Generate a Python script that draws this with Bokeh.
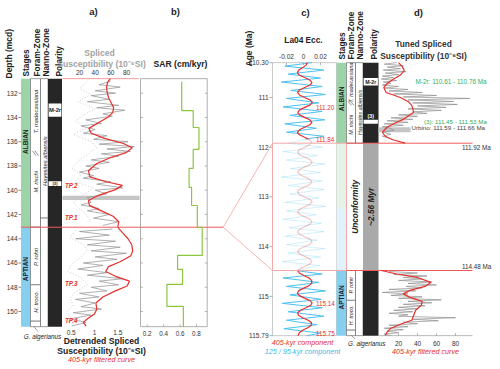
import math
from bokeh.plotting import figure
from bokeh.models import Range1d
from bokeh.core.properties import value
from bokeh.embed import file_html
from bokeh.resources import INLINE

# ------------------------------------------------------------------ data
depth_ticks = [132, 134, 136, 138, 140, 142, 144, 146, 148, 150]
susA_ticks = [20, 40, 60, 80]
detA_ticks = [0.5, 1.0, 1.5]
detA_labels = ["0.5", "1", "1.5"]
sar_ticks = [0.2, 0.4, 0.6, 0.8]
sar_labels = ["0.2", "0.4", "0.6", "0.8"]
ecc_ticks = [-0.02, 0.0, 0.02]
ecc_labels = ["-0.02", "0", "0.02"]
age_ticks = [110.30, 111, 112, 113, 114, 115, 115.79]
age_labels = ["110.30", "111", "112", "113", "114", "115", "115.79"]
susD_ticks = [20, 40, 60, 80]

depth_top, depth_bot = 130.8, 151.25
age_top, age_bot = 110.30, 115.79
unconf_depth = 143.05
unconf_age_top, unconf_age_bot = 111.92, 114.48

stage_names = ["ALBIAN", "APTIAN"]
stage_a_top = [130.8, 143.05]
stage_a_bot = [143.05, 151.25]
stage_a_label_depth = [136.0, 146.5]
stage_c_top = [110.30, 111.92, 113.24, 114.48]
stage_c_bot = [111.92, 113.24, 114.48, 115.79]
stage_c_label_age = [111.03, 115.02]

foram_names = ["T. madecassiana", "M. rischi", "P. rohri", "H. troco."]
foram_a_box_top = [130.8, 143.05, 147.8, 150.8]
foram_a_box_bot = [143.05, 147.8, 150.8, 151.25]
foram_a_label_depth = [133.5, 139.3, 145.5, 149.2]
foram_a_uncertain = 136.95
foram_c_box_top = [110.30, 114.48, 115.08, 115.68]
foram_c_box_bot = [111.92, 115.08, 115.68, 115.79]
foram_c_label_age = [110.70, 111.55, 114.78, 115.38]
foram_c_uncertain = 111.12

nanno_name = "Hayesites albiensis"
nanno_a_top = [130.8, 142.3]
nanno_a_bot = [142.3, 151.25]
nanno_a_label_depth = 137.6
nanno_c_top = [110.30, 114.48]
nanno_c_bot = [111.92, 115.79]
nanno_c_label_age = 111.30

pol_band_names = ["M-2r", "(3)"]
pol_a_band_top = [132.85, 139.25]
pol_a_band_bot = [133.95, 139.65]
pol_c_band_top = [110.61, 111.45]
pol_c_band_bot = [110.76, 111.53]
pol_c_label_age = [110.685, 111.38]

urbino_depth = [140.45, 140.80]
urbino_age = [111.60, 111.70]

tp_names = ["TP.1", "TP.2", "TP.3", "TP.4"]
tp_depth = [142.25, 139.6, 147.7, 150.75]

# spliced susceptibility (panel a, 10^-6 SI)
gray_a_top_depth = [131.0, 131.3, 131.5, 131.8, 132.0, 132.2, 132.5, 132.7, 133.0, 133.2,
                    133.4, 133.7, 133.9, 134.2, 134.5, 134.7, 135.0, 135.3, 135.5, 135.8,
                    136.0, 136.2, 136.4, 136.6, 136.8, 137.0, 137.2, 137.5, 137.7, 138.0,
                    138.2, 138.5, 138.8, 139.0, 139.3, 139.5, 139.8, 140.0, 140.3, 140.6,
                    141.0, 141.2, 141.5, 141.7, 142.0, 142.3, 142.6, 142.9]
gray_a_top_val = [60, 45, 72, 40, 66, 35, 58, 30, 70, 42,
                  78, 50, 62, 28, 48, 22, 40, 25, 55, 38,
                  82, 45, 90, 55, 85, 48, 70, 35, 58, 28,
                  45, 20, 38, 25, 60, 42, 75, 40, 55, 30,
                  35, 22, 45, 30, 58, 38, 70, 50]
gray_a_bot_depth = [143.2, 143.4, 143.7, 144.0, 144.2, 144.5, 144.7, 145.0, 145.2, 145.5,
                    145.7, 146.0, 146.2, 146.5, 146.8, 147.0, 147.3, 147.5, 147.8, 148.0,
                    148.3, 148.5, 148.8, 149.0, 149.3, 149.6, 149.8, 150.1, 150.3, 150.6,
                    150.9, 151.2]
gray_a_bot_val = [62, 20, 58, 15, 66, 30, 72, 35, 80, 40,
                  68, 25, 50, 18, 55, 30, 75, 45, 70, 35,
                  55, 20, 45, 15, 40, 22, 48, 12, 35, 8,
                  28, 10]
dot_a_top_depth = [131.0, 131.6, 132.1, 132.7, 133.3, 133.8, 134.3, 134.9, 135.4, 136.0, 136.5,
                   137.1, 137.6, 138.2, 138.7, 139.3, 139.8, 140.4, 141.0, 141.5, 142.1, 142.7]
dot_a_top_val = [30, 20, 35, 18, 40, 25, 15, 28, 12, 35, 42, 30, 18, 10, 22, 15, 38, 25, 12, 20, 30, 35]
dot_a_bot_depth = [143.3, 143.9, 144.5, 145.0, 145.6, 146.1, 146.7, 147.2, 147.8, 148.4,
                   148.9, 149.5, 150.0, 150.6, 151.1]
dot_a_bot_val = [15, 8, 25, 30, 20, 10, 5, 22, 30, 15, 8, 12, 4, 10, 3]

# 405-kyr filtered detrended susceptibility (panel a)
red_a_top_depth = [130.8, 131.1, 131.5, 131.9, 132.35, 132.8, 133.2, 133.6, 134.0, 134.4,
                   134.9, 135.3, 135.7, 136.15, 136.5, 136.9, 137.3, 137.8, 138.4, 138.9,
                   139.3, 139.6, 139.95, 140.4, 140.85, 141.25, 141.7, 142.15, 142.6, 143.05]
red_a_top_val = [1.34, 1.28, 1.26, 1.27, 1.30, 1.36, 1.41, 1.39, 1.28, 1.10,
                 0.88, 0.93, 1.20, 1.62, 1.81, 1.68, 1.35, 1.05, 0.87, 0.90,
                 1.25, 1.60, 1.45, 1.10, 0.87, 0.89, 1.15, 1.40, 1.52, 1.50]
red_a_bot_depth = [143.07, 143.5, 144.0, 144.5, 145.0, 145.4, 145.9, 146.3, 146.7, 147.1,
                   147.5, 147.9, 148.3, 148.8, 149.3, 149.8, 150.2, 150.6, 150.9, 151.2]
red_a_bot_val = [1.50, 1.60, 1.72, 1.80, 1.82, 1.78, 1.55, 1.30, 1.24, 1.45,
                 1.75, 1.70, 1.45, 1.18, 1.03, 1.05, 1.00, 0.85, 0.76, 0.82]

# SAR (panel b)
sar_bounds = [131.05, 133.43, 134.83, 136.64, 138.20, 139.77, 141.26, 143.07, 145.38,
              146.53, 147.77, 149.58, 151.25]
sar_vals = [0.62, 0.76, 0.83, 0.76, 0.71, 0.74, 0.81, 0.87, 0.57, 0.63, 0.44, 0.64]

# La04 eccentricity components (panel c)
ecc_top_age = [110.30, 110.37, 110.45, 110.53, 110.61, 110.69, 110.78, 110.86, 110.94, 111.02,
               111.11, 111.19, 111.28, 111.36, 111.45, 111.53, 111.62, 111.70, 111.78, 111.84]
ecc_top_val = [0.010, -0.022, 0.024, -0.018, 0.020, -0.026, 0.022, -0.015, 0.026, -0.020,
               0.018, -0.024, 0.022, -0.016, 0.025, -0.022, 0.015, -0.020, 0.024, 0.002]
ecc_mid_age = [111.84, 111.92, 112.00, 112.09, 112.17, 112.26, 112.34, 112.43, 112.51, 112.60,
               112.68, 112.77, 112.85, 112.94, 113.02, 113.11, 113.19, 113.28, 113.36, 113.45,
               113.53, 113.62, 113.70, 113.79, 113.87, 113.96, 114.04, 114.13, 114.21, 114.30,
               114.38, 114.48]
ecc_mid_val = [0.002, -0.018, 0.022, -0.024, 0.016, -0.020, 0.025, -0.015, 0.020, -0.026,
               0.022, -0.018, 0.024, -0.016, 0.018, -0.022, 0.026, -0.020, 0.015, -0.024,
               0.021, -0.017, 0.024, -0.022, 0.016, -0.020, 0.025, -0.018, 0.020, -0.025,
               0.019, -0.010]
ecc_bot_age = [114.48, 114.55, 114.63, 114.72, 114.80, 114.89, 114.97, 115.06, 115.14, 115.23,
               115.31, 115.40, 115.48, 115.57, 115.65, 115.74, 115.79]
ecc_bot_val = [-0.010, 0.022, -0.024, 0.018, -0.020, 0.026, -0.016, 0.021, -0.025, 0.022,
               -0.018, 0.024, -0.020, 0.016, -0.023, 0.020, 0.004]

red_c_top_age = [110.30, 110.35, 110.40, 110.45, 110.50, 110.55, 110.60, 110.65, 110.70, 110.75,
                 110.80, 110.85, 110.90, 110.95, 111.00, 111.05, 111.10, 111.15, 111.20, 111.25,
                 111.30, 111.35, 111.40, 111.45, 111.50, 111.55, 111.60, 111.65, 111.70, 111.75,
                 111.80, 111.84]
red_c_top_val = [0.0045, 0.0030, -0.0010, -0.0055, -0.0072, -0.0050, 0.0012, 0.0075, 0.0100, 0.0076,
                 0.0014, -0.0046, -0.0070, -0.0047, 0.0013, 0.0078, 0.0104, 0.0080, 0.0016, -0.0044,
                 -0.0068, -0.0046, 0.0012, 0.0074, 0.0098, 0.0074, 0.0014, -0.0048, -0.0072, -0.0048,
                 0.0012, 0.0060]
red_c_mid_age = [111.84, 111.90, 111.95, 112.00, 112.05, 112.10, 112.15, 112.20, 112.25, 112.30,
                 112.35, 112.40, 112.45, 112.50, 112.55, 112.60, 112.65, 112.70, 112.75, 112.80,
                 112.85, 112.90, 112.95, 113.00, 113.05, 113.10, 113.15, 113.20, 113.25, 113.30,
                 113.35, 113.40, 113.45, 113.50, 113.55, 113.60, 113.65, 113.70, 113.75, 113.80,
                 113.85, 113.90, 113.95, 114.00, 114.05, 114.10, 114.15, 114.20, 114.25, 114.30,
                 114.35, 114.40, 114.45, 114.48]
red_c_mid_val = [0.0060, 0.0098, 0.0074, 0.0012, -0.0047, -0.0071, -0.0047, 0.0013, 0.0077, 0.0101,
                 0.0077, 0.0014, -0.0045, -0.0069, -0.0045, 0.0015, 0.0075, 0.0099, 0.0075, 0.0013,
                 -0.0048, -0.0072, -0.0048, 0.0012, 0.0078, 0.0102, 0.0078, 0.0014, -0.0046, -0.0070,
                 -0.0046, 0.0014, 0.0076, 0.0100, 0.0076, 0.0013, -0.0047, -0.0071, -0.0047, 0.0013,
                 0.0077, 0.0101, 0.0077, 0.0014, -0.0045, -0.0069, -0.0045, 0.0015, 0.0075, 0.0099,
                 0.0075, 0.0013, -0.0048, -0.0068]
red_c_bot_age = [114.48, 114.53, 114.58, 114.63, 114.68, 114.73, 114.78, 114.83, 114.88, 114.93,
                 114.98, 115.03, 115.08, 115.13, 115.18, 115.23, 115.28, 115.33, 115.38, 115.43,
                 115.48, 115.53, 115.58, 115.63, 115.68, 115.73, 115.79]
red_c_bot_val = [-0.0068, -0.0050, 0.0005, 0.0065, 0.0095, 0.0098, 0.0070, 0.0010, -0.0050, -0.0072,
                 -0.0052, 0.0005, 0.0072, 0.0102, 0.0085, 0.0030, -0.0035, -0.0068, -0.0060, -0.0010,
                 0.0055, 0.0095, 0.0090, 0.0050, -0.0010, -0.0050, -0.0065]
red_c_tag_age = [111.20, 111.84, 115.14, 115.75]
red_c_tag_text = ["111.20", "111.84", "115.14", "115.75"]

# tuned spliced susceptibility (panel d)
gray_d_top_age = [110.30, 110.33, 110.36, 110.39, 110.42, 110.45, 110.48, 110.51, 110.54, 110.57,
                  110.60, 110.63, 110.66, 110.69, 110.72, 110.75, 110.78, 110.81, 110.84, 110.87,
                  110.90, 110.93, 110.96, 110.99, 111.02, 111.05, 111.08, 111.11, 111.14, 111.17,
                  111.20, 111.23, 111.26, 111.29, 111.32, 111.35, 111.38, 111.41, 111.44, 111.47,
                  111.50, 111.53, 111.56, 111.59, 111.62, 111.66, 111.70, 111.74, 111.78, 111.82]
gray_d_top_val = [18, 5, 25, 8, 22, 4, 28, 6, 20, 3,
                  15, 2, 18, 4, 12, 3, 20, 5, 30, 10,
                  45, 15, 60, 25, 95, 30, 78, 35, 82, 40,
                  70, 30, 65, 35, 50, 20, 40, 12, 35, 8,
                  30, 5, 25, 3, 12, 15, 4, 12, 3, 10]
gray_d_bot_age = [114.50, 114.53, 114.56, 114.59, 114.62, 114.65, 114.68, 114.71, 114.74, 114.77,
                  114.80, 114.83, 114.86, 114.89, 114.92, 114.95, 114.98, 115.01, 115.04, 115.07,
                  115.10, 115.13, 115.16, 115.19, 115.22, 115.25, 115.28, 115.31, 115.34, 115.37,
                  115.40, 115.43, 115.46, 115.49, 115.52, 115.55, 115.58, 115.61, 115.64, 115.67,
                  115.70, 115.73, 115.76, 115.79]
gray_d_bot_val = [10, 40, 15, 50, 25, 45, 20, 55, 30, 60,
                  28, 45, 10, 38, 3, 30, 12, 45, 20, 65,
                  30, 55, 25, 48, 20, 40, 15, 35, 10, 30,
                  20, 80, 35, 62, 25, 40, 10, 30, 5, 25,
                  8, 20, 5, 12]
red_d_top_age = [110.30, 110.38, 110.46, 110.55, 110.63, 110.72, 110.80, 110.90, 111.00, 111.08,
                 111.16, 111.30, 111.43, 111.52, 111.60, 111.70, 111.78, 111.85, 111.92]
red_d_top_val = [20, 24, 26, 22, 15, 8, 4.5, 7, 22, 30, 34, 36, 26, 16, 8, 3, 6, 14, 27]
red_d_bot_age = [114.48, 114.55, 114.62, 114.72, 114.80, 114.88, 114.95, 115.02, 115.10, 115.18,
                 115.28, 115.38, 115.48, 115.56, 115.64, 115.72, 115.79]
red_d_bot_val = [2, 18, 40, 54, 48, 32, 25, 32, 45, 44, 38, 36, 34, 22, 12, 8, 6]

# ------------------------------------------------------------------ layout
# Bokeh's page template has no body margin, so the figure covers the window.
W, H, M = 500, 369, 0
DEPTH_PX = (132, 92.7, 150, 311.0)
AGE_PX = (111.92, 142.7, 114.48, 270.0)
SUSA_PX = (20, 79.0, 80, 126.0)
DETA_PX = (0.5, 70.7, 1.5, 117.3)
SAR_PX = (0.2, 146.7, 0.8, 196.0)
ECC_PX = (-0.02, 286.0, 0.02, 320.0)
SUSD_PX = (20, 398.0, 80, 455.0)

A_STAGE = (20.5, 30.0); A_FORAM = (30.0, 40.0); A_NANNO = (40.0, 47.5); A_POL = (47.5, 61.5)
C_STAGE = (336.0, 346.0); C_FORAM = (346.0, 355.0); C_NANNO = (355.0, 362.5); C_POL = (362.5, 378.0)
A_PLOT = (62.0, 139.0)
B_BOX = (140.0, 206.7)
C_BOX = (272.0, 336.0)
D_PLOT = (378.0, 472.0)


def to_px(a, v):
    v1, p1, v2, p2 = a
    return p1 + (v - v1) * (p2 - p1) / (v2 - v1)


def from_px(a, px):
    v1, p1, v2, p2 = a
    return v1 + (px - p1) * (v2 - v1) / (p2 - p1)


def xr(a):
    return Range1d(start=from_px(a, M), end=from_px(a, M + W))


def yr(a):
    return Range1d(start=from_px(a, M + H), end=from_px(a, M))


p = figure(width=W, height=H, x_range=Range1d(M, M + W), y_range=Range1d(M + H, M),
           output_backend="svg", toolbar_location=None, min_border=0,
           x_axis_location=None, y_axis_location=None)
p.grid.visible = False
p.outline_line_color = None
p.background_fill_color = "white"
p.border_fill_color = "white"
p.extra_x_ranges = {"susA": xr(SUSA_PX), "detA": xr(DETA_PX), "sar": xr(SAR_PX),
                    "ecc": xr(ECC_PX), "susD": xr(SUSD_PX)}
p.extra_y_ranges = {"depth": yr(DEPTH_PX), "age": yr(AGE_PX)}

FONT = value("Liberation Sans")
UP = math.pi / 2
RED = "#E5302C"
BLUE = "#4EC2F0"
GREEN_ST = "#9CD3A8"
BLUE_ST = "#86CFEF"
POLC = "#262626"


def label(xs, ys, texts, size, color="#222222", style="normal", align="center",
          baseline="middle", angle=0.0, alpha=1.0, xname="default", yname="default"):
    p.text(x=list(xs), y=list(ys), text=list(texts), text_font=FONT,
           text_font_size=f"{size}px", text_color=color, text_font_style=style,
           text_align=align, text_baseline=baseline, angle=angle, text_alpha=alpha,
           x_range_name=xname, y_range_name=yname)


# ------------------------------------------------------------------ panel a columns
p.quad(left=A_STAGE[0], right=A_STAGE[1], top=stage_a_top, bottom=stage_a_bot,
       fill_color=[GREEN_ST, BLUE_ST], line_color=None, y_range_name="depth")
label([sum(A_STAGE) / 2] * 2, stage_a_label_depth, stage_names, 6.5, style="bold",
      angle=UP, yname="depth")
p.quad(left=A_FORAM[0], right=A_FORAM[1], top=foram_a_box_top, bottom=foram_a_box_bot,
       fill_color="white", line_color="#555555", line_width=0.6, y_range_name="depth")
p.quad(left=A_NANNO[0], right=A_NANNO[1], top=nanno_a_top, bottom=nanno_a_bot,
       fill_color="white", line_color="#555555", line_width=0.6, y_range_name="depth")
p.segment(x0=[32.0, 34.5], x1=[35.5, 38.0], y0=[foram_a_uncertain - 0.2] * 2,
          y1=[foram_a_uncertain + 0.2] * 2, line_color="#444444", line_width=0.6,
          y_range_name="depth")
label([35.2] * 4, foram_a_label_depth, foram_names, 5.8, style="italic", angle=UP,
      yname="depth")
label([44.0], [nanno_a_label_depth], [nanno_name], 5.8, style="italic", angle=UP,
      yname="depth")
p.quad(left=A_POL[0], right=A_POL[1], top=[depth_top], bottom=[depth_bot],
       fill_color=POLC, line_color=None, y_range_name="depth")
p.quad(left=A_POL[0] + 0.6, right=A_POL[1] - 0.6, top=pol_a_band_top, bottom=pol_a_band_bot,
       fill_color="white", line_color=None, y_range_name="depth")
label([sum(A_POL) / 2], [(pol_a_band_top[0] + pol_a_band_bot[0]) / 2], [pol_band_names[0]],
      5.8, style="bold", yname="depth")
label([sum(A_POL) / 2], [(pol_a_band_top[1] + pol_a_band_bot[1]) / 2], [pol_band_names[1]],
      4.2, style="bold", yname="depth")

# depth axis
p.segment(x0=18.0, x1=A_STAGE[0], y0=depth_ticks, y1=depth_ticks, line_color="#555555",
          line_width=0.7, y_range_name="depth")
label([17.0] * len(depth_ticks), depth_ticks, [str(d) for d in depth_ticks], 6.5,
      color="#333333", align="right", yname="depth")

# headers panel a
label([8.8], [78], ["Depth (mcd)"], 8.5, style="bold", align="left", angle=UP)
label([25.3, 36.0, 45.3, 58.3], [76, 76, 76, 76],
      ["Stages", "Foram-Zone", "Nanno-Zone", "Polarity"], 8.3, style="bold",
      align="left", angle=UP)
label([99, 101], [52, 63.5], ["Spliced", "Susceptibility (10\u207b\u2076SI)"], 8.6,
      color="#A3A3A3", style="bold")

# ------------------------------------------------------------------ panel a plot
p.quad(left=A_PLOT[0], right=A_PLOT[1], top=[urbino_depth[0]], bottom=[urbino_depth[1]],
       fill_color="#C4C4C4", line_color=None, y_range_name="depth")
p.line(x=dot_a_top_val, y=dot_a_top_depth, x_range_name="susA", y_range_name="depth",
       line_color="#BDBDBD", line_width=0.8, line_dash="1 2")
p.line(x=dot_a_bot_val, y=dot_a_bot_depth, x_range_name="susA", y_range_name="depth",
       line_color="#BDBDBD", line_width=0.8, line_dash="1 2")
p.line(x=gray_a_top_val, y=gray_a_top_depth, x_range_name="susA", y_range_name="depth",
       line_color="#8E8E8E", line_width=0.7)
p.line(x=gray_a_bot_val, y=gray_a_bot_depth, x_range_name="susA", y_range_name="depth",
       line_color="#8E8E8E", line_width=0.7)
p.line(x=red_a_top_val, y=red_a_top_depth, x_range_name="detA", y_range_name="depth",
       line_color=RED, line_width=1.2)
p.line(x=red_a_bot_val, y=red_a_bot_depth, x_range_name="detA", y_range_name="depth",
       line_color=RED, line_width=1.2)
p.line(x=[A_PLOT[0], 138.0], y=[depth_top, depth_top], y_range_name="depth",
       line_color="#F08080", line_width=0.8)
label(susA_ticks, [72] * 4, [str(t) for t in susA_ticks], 6.5, color="#333333",
      xname="susA")
label(detA_ticks, [332] * 3, detA_labels, 6.5, color="#333333", xname="detA")
label([64.5] * 4, tp_depth, tp_names, 6.3, color=RED, style="bold italic", align="left",
      yname="depth")
label([101, 101], [340.5, 350], ["Detrended Spliced", "Susceptibility (10\u207b\u2076SI)"], 8.6,
      style="bold")
label([101], [358.5], ["405-kyr filtered curve"], 7.2, color=RED, style="italic")
p.line(x=[33.5, 37.5], y=[to_px(DEPTH_PX, depth_bot), 331.0], line_color="#555555",
       line_width=0.6)
label([42], [335.5], ["G. algerianus"], 6.3, style="italic")

# unconformity in depth domain
p.line(x=[A_STAGE[0], 222.7], y=[unconf_depth, unconf_depth], y_range_name="depth",
       line_color="#F05A5A", line_width=1.0)

# ------------------------------------------------------------------ panel b
p.quad(left=B_BOX[0], right=B_BOX[1], top=[depth_top], bottom=[depth_bot],
       fill_color=None, line_color="#9A9A9A", line_width=0.8, y_range_name="depth")
p.segment(x0=B_BOX[0], x1=B_BOX[0] + 2.5, y0=depth_ticks, y1=depth_ticks,
          line_color="#9A9A9A", line_width=0.7, y_range_name="depth")
p.segment(x0=B_BOX[1] - 2.5, x1=B_BOX[1], y0=depth_ticks, y1=depth_ticks,
          line_color="#9A9A9A", line_width=0.7, y_range_name="depth")
yb = to_px(DEPTH_PX, depth_bot)
p.segment(x0=sar_ticks, x1=sar_ticks, y0=yb, y1=yb - 2.5, line_color="#9A9A9A",
          line_width=0.7, x_range_name="sar")
sx, sy = [], []
for i, v in enumerate(sar_vals):
    sx += [v, v]
    sy += [sar_bounds[i], sar_bounds[i + 1]]
p.line(x=sx, y=sy, x_range_name="sar", y_range_name="depth", line_color="#8CC63F",
       line_width=1.2)
label(sar_ticks, [333] * 4, sar_labels, 6.3, color="#333333", xname="sar")
label([180], [63.5], ["SAR (cm/kyr)"], 8.6, style="bold")

# connectors
y_unc = to_px(DEPTH_PX, unconf_depth)
p.line(x=[222.7, C_BOX[0]], y=[y_unc, to_px(AGE_PX, unconf_age_top)], line_color="#F4A0A0",
       line_width=0.8)
p.line(x=[222.7, C_BOX[0]], y=[y_unc, to_px(AGE_PX, unconf_age_bot)], line_color="#F4A0A0",
       line_width=0.8)

# ------------------------------------------------------------------ panel c
p.quad(left=C_BOX[0], right=C_BOX[1], top=[age_top], bottom=[age_bot], fill_color=None,
       line_color="#BDBDBD", line_width=0.8, y_range_name="age")
p.segment(x0=C_BOX[0] - 3, x1=C_BOX[0], y0=age_ticks, y1=age_ticks, line_color="#888888",
          line_width=0.7, y_range_name="age")
label([268] * len(age_ticks), age_ticks, age_labels, 6.5, color="#333333", align="right",
      yname="age")
yt = to_px(AGE_PX, age_top)
p.segment(x0=ecc_ticks, x1=ecc_ticks, y0=yt, y1=yt + 2.5, line_color="#999999",
          line_width=0.7, x_range_name="ecc")
label(ecc_ticks, [56] * 3, ecc_labels, 6.5, color="#333333", xname="ecc")
label([303], [39], ["La04 Ecc."], 8.3, style="bold")
label([248.3], [66], ["Age (Ma)"], 8.5, style="bold", align="left", angle=UP)

p.line(x=ecc_top_val, y=ecc_top_age, x_range_name="ecc", y_range_name="age",
       line_color=BLUE, line_width=1.0)
p.line(x=ecc_mid_val, y=ecc_mid_age, x_range_name="ecc", y_range_name="age",
       line_color=BLUE, line_width=1.0, line_alpha=0.25)
p.line(x=ecc_bot_val, y=ecc_bot_age, x_range_name="ecc", y_range_name="age",
       line_color=BLUE, line_width=1.0)
p.line(x=red_c_top_val, y=red_c_top_age, x_range_name="ecc", y_range_name="age",
       line_color=RED, line_width=1.2)
p.line(x=red_c_mid_val, y=red_c_mid_age, x_range_name="ecc", y_range_name="age",
       line_color=RED, line_width=1.1, line_alpha=0.3)
p.line(x=red_c_bot_val, y=red_c_bot_age, x_range_name="ecc", y_range_name="age",
       line_color=RED, line_width=1.2)
label([315.5] * 4, red_c_tag_age, red_c_tag_text, 6.3, color=RED, align="left", yname="age")
label([302], [342], ["405-kyr component"], 7.2, color=RED, style="italic")
label([302], [350.5], ["125 / 95-kyr component"], 7.2, color="#3BB8EC", style="italic")

# columns c
p.quad(left=C_STAGE[0], right=C_STAGE[1], top=stage_c_top, bottom=stage_c_bot,
       fill_color=[GREEN_ST, "#E4F2E7", "#E2F2FA", BLUE_ST], line_color=None,
       y_range_name="age")
label([sum(C_STAGE) / 2] * 2, stage_c_label_age, stage_names, 6.5, style="bold", angle=UP,
      yname="age")
p.quad(left=C_FORAM[0], right=C_FORAM[1], top=foram_c_box_top, bottom=foram_c_box_bot,
       fill_color="white", line_color="#555555", line_width=0.6, y_range_name="age")
p.quad(left=C_NANNO[0], right=C_NANNO[1], top=nanno_c_top, bottom=nanno_c_bot,
       fill_color="white", line_color="#555555", line_width=0.6, y_range_name="age")
p.segment(x0=[347.5, 350.0], x1=[351.0, 353.5], y0=[foram_c_uncertain - 0.04] * 2,
          y1=[foram_c_uncertain + 0.04] * 2, line_color="#444444", line_width=0.6,
          y_range_name="age")
label([350.8] * 4, foram_c_label_age, foram_names, 5.3, style="italic", angle=UP,
      yname="age")
label([359.0], [nanno_c_label_age], [nanno_name], 5.3, style="italic", angle=UP,
      yname="age")
p.quad(left=C_POL[0], right=C_POL[1], top=[age_top, unconf_age_bot],
       bottom=[unconf_age_top, age_bot], fill_color=POLC, line_color=None, y_range_name="age")
p.quad(left=C_POL[0], right=C_POL[1], top=[unconf_age_top], bottom=[unconf_age_bot],
       fill_color="#A9A9A9", line_color=None, y_range_name="age")
p.quad(left=C_POL[0] + 0.6, right=C_POL[1] - 0.6, top=pol_c_band_top, bottom=pol_c_band_bot,
       fill_color="white", line_color=None, y_range_name="age")
label([sum(C_POL) / 2], [pol_c_label_age[0]], [pol_band_names[0]], 5.3, style="bold",
      yname="age")
label([sum(C_POL) / 2], [pol_c_label_age[1]], [pol_band_names[1]], 5.3, color="white",
      style="bold", yname="age")
mid_unc = (unconf_age_top + unconf_age_bot) / 2
label([354.5], [mid_unc], ["Unconformity"], 8.3, style="bold italic", angle=UP, yname="age")
label([370.3], [mid_unc], ["~2.56 Myr"], 8.3, style="bold italic", angle=UP, yname="age")
p.quad(left=C_BOX[0], right=C_STAGE[1], top=[unconf_age_top], bottom=[unconf_age_bot],
       fill_color=None, line_color="#F4A7A7", line_width=1.0, y_range_name="age")
label([341.0, 350.5, 359.0, 373.5], [59, 59, 59, 59],
      ["Stages", "Foram-Zone", "Nanno-Zone", "Polarity"], 8.3, style="bold",
      align="left", angle=UP)
p.line(x=[351.0, 354.5], y=[to_px(AGE_PX, age_bot), 338.5], line_color="#555555",
       line_width=0.6)
label([347.5], [342.5], ["G. algerianus"], 6.3, style="italic", align="left")

# unconformity lines in age domain
for a in (unconf_age_top, unconf_age_bot):
    p.line(x=[C_STAGE[1], D_PLOT[1]], y=[a, a], y_range_name="age", line_color="#F05A5A",
           line_width=1.0)

# ------------------------------------------------------------------ panel d
p.quad(left=D_PLOT[0], right=410.0, top=[urbino_age[0]], bottom=[urbino_age[1]],
       fill_color="#C4C4C4", line_color=None, y_range_name="age")
p.line(x=gray_d_top_val, y=gray_d_top_age, x_range_name="susD", y_range_name="age",
       line_color="#8E8E8E", line_width=0.7)
p.line(x=gray_d_bot_val, y=gray_d_bot_age, x_range_name="susD", y_range_name="age",
       line_color="#8E8E8E", line_width=0.7)
p.line(x=red_d_top_val, y=red_d_top_age, x_range_name="susD", y_range_name="age",
       line_color=RED, line_width=1.2)
p.line(x=red_d_bot_val, y=red_d_bot_age, x_range_name="susD", y_range_name="age",
       line_color=RED, line_width=1.2)
ybd = to_px(AGE_PX, age_bot)
p.line(x=[D_PLOT[0], D_PLOT[1]], y=[ybd, ybd], line_color="#9A9A9A", line_width=0.7)
p.segment(x0=susD_ticks, x1=susD_ticks, y0=ybd, y1=ybd - 2.5, line_color="#9A9A9A",
          line_width=0.7, x_range_name="susD")
label(susD_ticks, [342.5] * 4, [str(t) for t in susD_ticks], 6.5, color="#333333",
      xname="susD")
label([425], [350.5], ["405-kyr filtered curve"], 7.2, color=RED, style="italic")
label([423, 423], [43, 55], ["Tuned Spliced", "Susceptibility (10\u207b\u2076SI)"], 8.4,
      style="bold", color="#333333")
label([415.0], [80.5], ["M-2r: 110.61 - 110.76 Ma"], 6.4, color="#2FAE62", align="left")
label([423.5], [120.5], ["(3): 111.45 - 111.53 Ma"], 6.2, color="#2FAE62", align="left")
label([411.0], [127.0], ["Urbino: 111.59 - 111.66 Ma"], 6.2, color="#444444", align="left")
label([461.5], [146.5], ["111.92 Ma"], 6.3, color="#333333", align="left")
label([461.5], [266.0], ["114.48 Ma"], 6.3, color="#333333", align="left")

# ------------------------------------------------------------------ titles
label([93, 175, 305, 418], [10.5, 10.5, 12, 12], ["a)", "b)", "c)", "d)"], 9.5,
      color="#222222", style="bold")

open("out.html", "w").write(file_html(p, INLINE))
